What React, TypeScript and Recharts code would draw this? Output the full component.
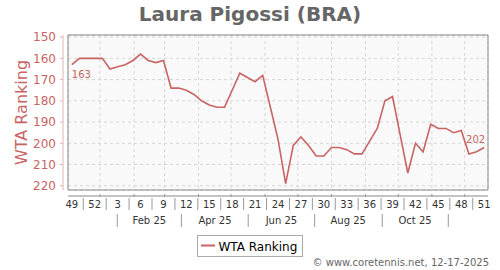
import { LineChart, Line, XAxis, YAxis, CartesianGrid, ReferenceArea } from "recharts";

// ISO weeks from wk 49 of 2024 to wk 51 of 2025
const weekLabels = [
  "49", "50", "51", "52",
  "1", "2", "3", "4", "5", "6", "7", "8", "9", "10",
  "11", "12", "13", "14", "15", "16", "17", "18", "19", "20",
  "21", "22", "23", "24", "25", "26", "27", "28", "29", "30",
  "31", "32", "33", "34", "35", "36", "37", "38", "39", "40",
  "41", "42", "43", "44", "45", "46", "47", "48", "49", "50", "51",
];

const rankings = [
  163, 160, 160, 160, 160, 165, 164, 163, 161, 158,
  161, 162, 161, 174, 174, 175, 177, 180, 182, 183,
  183, 175, 167, 169, 171, 168, 183, 198, 219, 201,
  197, 201, 206, 206, 202, 202, 203, 205, 205, 199,
  193, 180, 178, 196, 214, 200, 204, 191, 193, 193,
  195, 194, 205, 204, 202,
];

const weekTicks = [0, 3, 6, 9, 12, 15, 18, 21, 24, 27, 30, 33, 36, 39, 42, 45, 48, 51, 54];
const weekSeps = [1.5, 4.5, 7.5, 10.5, 13.5, 16.5, 19.5, 22.5, 25.5, 28.5, 31.5, 34.5, 37.5, 40.5, 43.5, 46.5, 49.5, 52.5];
// month starts (Jan..Dec 2025) on the week scale
const monthStarts = [3.7, 8.15, 12.15, 16.6, 20.85, 25.3, 29.6, 34.0, 38.45, 42.75, 47.15, 51.45];
const periodSeps = [5.95, 14.35, 23.1, 31.8, 40.65, 49.3];
const periodPos = [10.15, 18.75, 27.45, 36.2, 44.95];
const periodLabels = ["Feb 25", "Apr 25", "Jun 25", "Aug 25", "Oct 25"];

const rankTicks = [150, 160, 170, 180, 190, 200, 210, 220];

const data = weekLabels.map((week, i) => ({ idx: i, week, rank: rankings[i] }));

const RED = "#c86464";
const X_DOMAIN: [number, number] = [-0.5, 54.5];
const Y_DOMAIN: [number, number] = [149, 222];
const W_TICKS = [...weekTicks, ...weekSeps, ...monthStarts];
const M_TICKS = [...periodSeps, ...periodPos];
const MARGIN = { top: 35, right: 12, left: 0, bottom: 39 };
const Y_TICK_STYLE = { fill: RED, fontSize: 12 };
const Y_LINE_STYLE = { stroke: "#e2b4b4" };
const X_LINE_STYLE = { stroke: "#888" };

function WeekTick(props: any) {
  const { x, y, payload } = props;
  const v = payload.value;
  if (weekSeps.includes(v)) {
    return <line x1={x} x2={x} y1={y + 2} y2={y + 14} stroke="#999" />;
  }
  if (monthStarts.includes(v)) {
    return <line x1={x} x2={x} y1={y - 2} y2={y + 1} stroke="#999" />;
  }
  return (
    <text x={x} y={y + 12} textAnchor="middle" fontSize={10} fill="#333">
      {weekLabels[v]}
    </text>
  );
}

function PeriodTick(props: any) {
  const { x, y, payload } = props;
  const v = payload.value;
  const i = periodPos.indexOf(v);
  if (i < 0) {
    return <line x1={x} x2={x} y1={y + 1} y2={y + 14} stroke="#999" />;
  }
  return (
    <text x={x} y={y + 11} textAnchor="middle" fontSize={10} fill="#333">
      {periodLabels[i]}
    </text>
  );
}

function RankLabel({ viewBox }: any) {
  const cy = viewBox.y + viewBox.height / 2;
  return (
    <text
      x={21}
      y={cy}
      transform={`rotate(-90, 21, ${cy})`}
      textAnchor="middle"
      dominantBaseline="central"
      fontSize={16}
      fill={RED}
    >
      WTA Ranking
    </text>
  );
}

function EndLabel(props: any) {
  const { x, y, index, value } = props;
  if (index === 0) {
    return (
      <text x={x} y={y + 13} fontSize={10} fill={RED} textAnchor="start">
        {value}
      </text>
    );
  }
  if (index === rankings.length - 1) {
    return (
      <text x={x + 1} y={y - 4.5} fontSize={10} fill={RED} textAnchor="end">
        {value}
      </text>
    );
  }
  return null;
}

export default function App() {
  return (
    <div
      style={{
        position: "absolute",
        left: 0,
        top: 0,
        width: 500,
        height: 270,
        background: "#fff",
        fontFamily: "DejaVu Sans",
      }}
    >
      <LineChart width={500} height={270} data={data} margin={MARGIN}>
        <XAxis xAxisId="a_pad" dataKey="idx" type="number" domain={X_DOMAIN} allowDataOverflow height={6} tick={false} axisLine={false} tickLine={false} />
        <XAxis
          xAxisId="b_week"
          dataKey="idx"
          type="number"
          domain={X_DOMAIN}
          allowDataOverflow
          height={17}
          ticks={W_TICKS}
          interval={0}
          tick={WeekTick}
          tickLine={false}
          tickSize={0}
          tickMargin={0}
          axisLine={X_LINE_STYLE}
        />
        <XAxis
          xAxisId="c_month"
          dataKey="idx"
          type="number"
          domain={X_DOMAIN}
          allowDataOverflow
          height={18}
          ticks={M_TICKS}
          interval={0}
          tick={PeriodTick}
          tickLine={false}
          tickSize={0}
          tickMargin={0}
          axisLine={false}
        />
        <XAxis xAxisId="z_grid" dataKey="idx" type="number" domain={X_DOMAIN} allowDataOverflow ticks={monthStarts} interval={0} height={0} hide />
        <YAxis yAxisId="a_pad" width={5} tick={false} axisLine={false} tickLine={false} />
        <YAxis
          yAxisId="b_rank"
          width={63}
          reversed
          domain={Y_DOMAIN}
          allowDataOverflow
          ticks={rankTicks}
          interval={0}
          tick={Y_TICK_STYLE}
          tickSize={3}
          tickMargin={4}
          tickLine={Y_LINE_STYLE}
          axisLine={Y_LINE_STYLE}
          label={RankLabel}
        />
        <CartesianGrid xAxisId="z_grid" yAxisId="b_rank" stroke="#d6d6d6" strokeDasharray="3 3" fill="#f9f9f9" />
        <ReferenceArea xAxisId="b_week" yAxisId="b_rank" x1={-0.5} x2={54.5} y1={149} y2={222} fill="none" stroke="#888" />
        <Line
          xAxisId="b_week"
          yAxisId="b_rank"
          dataKey="rank"
          type="linear"
          stroke={RED}
          strokeWidth={1.6}
          dot={false}
          label={EndLabel}
          isAnimationActive={false}
        />
      </LineChart>
      <svg width={500} height={270} style={{ position: "absolute", left: 0, top: 0, pointerEvents: "none" }}>
        <text x={250} y={21} textAnchor="middle" fontSize={20} fontWeight="bold" fill="#666">
          Laura Pigossi (BRA)
        </text>
        <rect x={197.5} y={235.5} width={105} height={21} fill="#fff" stroke="#aaa" />
        <line x1={201} x2={215} y1={245.5} y2={245.5} stroke={RED} strokeWidth={2} />
        <text x={218.5} y={250.5} fontSize={12} fill="#000">
          WTA Ranking
        </text>
        <text x={489} y={266} textAnchor="end" fontSize={10} fill="#666">
          © www.coretennis.net, 12-17-2025
        </text>
      </svg>
    </div>
  );
}
